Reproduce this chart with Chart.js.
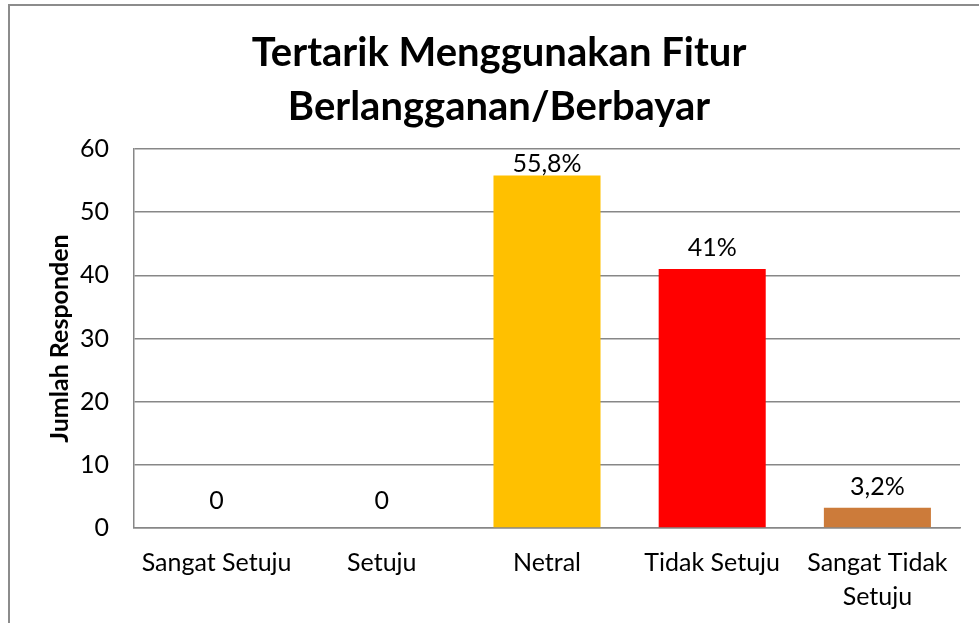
<!DOCTYPE html>
<html>
<head>
<meta charset="utf-8">
<script src="https://cdn.jsdelivr.net/npm/chart.js@4.4.1/dist/chart.umd.min.js"></script>
<style>
html,body{margin:0;padding:0;background:#fff;overflow:hidden;width:979px;height:623px;}
#c{position:absolute;left:8px;top:4px;}
</style>
</head>
<body>
<canvas id="c" width="982" height="619"></canvas>
<script>
const titleLines = ["Tertarik Menggunakan Fitur", "Berlangganan/Berbayar"];
const yAxisTitle = "Jumlah Responden";
const categories = [["Sangat Setuju"], ["Setuju"], ["Netral"], ["Tidak Setuju"], ["Sangat Tidak", "Setuju"]];
const values = [0, 0, 55.8, 41, 3.2];
const valueLabels = ["0", "0", "55,8%", "41%", "3,2%"];
const barColors = ["#4F81BD", "#4F81BD", "#FFC000", "#FF0000", "#CC7B3A"];
const yMin = 0, yMax = 60, yStep = 10;

const FONT = "Lato, 'Liberation Sans', sans-serif";
const GRID = "#878787";

const frame = {
  id: 'frame',
  afterDraw(chart) {
    const ctx = chart.ctx;
    ctx.save();
    ctx.strokeStyle = "#8c8c8c";
    ctx.lineWidth = 2;
    ctx.beginPath();
    ctx.moveTo(1, chart.height + 5);
    ctx.lineTo(1, 1);
    ctx.lineTo(chart.width + 5, 1);
    ctx.stroke();
    ctx.restore();
  }
};

const valueLabelPlugin = {
  id: 'valueLabels',
  afterDatasetsDraw(chart) {
    const ctx = chart.ctx;
    const meta = chart.getDatasetMeta(0);
    const area = chart.chartArea;
    ctx.save();
    ctx.font = "25px " + FONT;
    ctx.fillStyle = "#000";
    ctx.textAlign = "center";
    ctx.textBaseline = "middle";
    meta.data.forEach((bar, i) => {
      const off = values[i] === 0 ? 27 : 21;
      const y = Math.max(bar.y - off, area.top + 15);
      ctx.fillText(valueLabels[i], bar.x, y);
    });
    ctx.restore();
  }
};

new Chart(document.getElementById('c'), {
  type: 'bar',
  data: {
    labels: categories,
    datasets: [{
      data: values,
      backgroundColor: barColors,
      borderWidth: 0,
      barPercentage: 0.648,
      categoryPercentage: 1.0
    }]
  },
  options: {
    responsive: false,
    animation: false,
    devicePixelRatio: 1,
    layout: { padding: { left: 30, right: 30, top: 0, bottom: 0 } },
    plugins: {
      legend: { display: false },
      tooltip: { enabled: false },
      title: {
        display: true,
        text: titleLines,
        color: "#000",
        font: { family: FONT, size: 40, weight: 'bold', lineHeight: 54 / 40 },
        padding: { top: 22, bottom: 15 }
      }
    },
    scales: {
      x: {
        grid: { display: false, drawTicks: false },
        border: { display: true, color: GRID, width: 1.5 },
        ticks: {
          color: "#000",
          font: { family: FONT, size: 25, lineHeight: 34 / 25 },
          padding: 18,
          maxRotation: 0,
          autoSkip: false
        },
        afterFit(scale) { scale.height = 95; }
      },
      y: {
        min: yMin,
        max: yMax,
        grid: { color: GRID, lineWidth: 1.5, drawTicks: false },
        border: { display: true, color: GRID, width: 1.5 },
        ticks: {
          stepSize: yStep,
          color: "#000",
          font: { family: FONT, size: 25 },
          padding: 25
        },
        title: {
          display: true,
          text: yAxisTitle,
          color: "#000",
          font: { family: FONT, size: 25, weight: 'bold' },
          padding: { top: 7, bottom: 0 }
        },
        afterFit(scale) { scale.width = 96; }
      }
    }
  },
  plugins: [frame, valueLabelPlugin]
});
</script>
</body>
</html>
